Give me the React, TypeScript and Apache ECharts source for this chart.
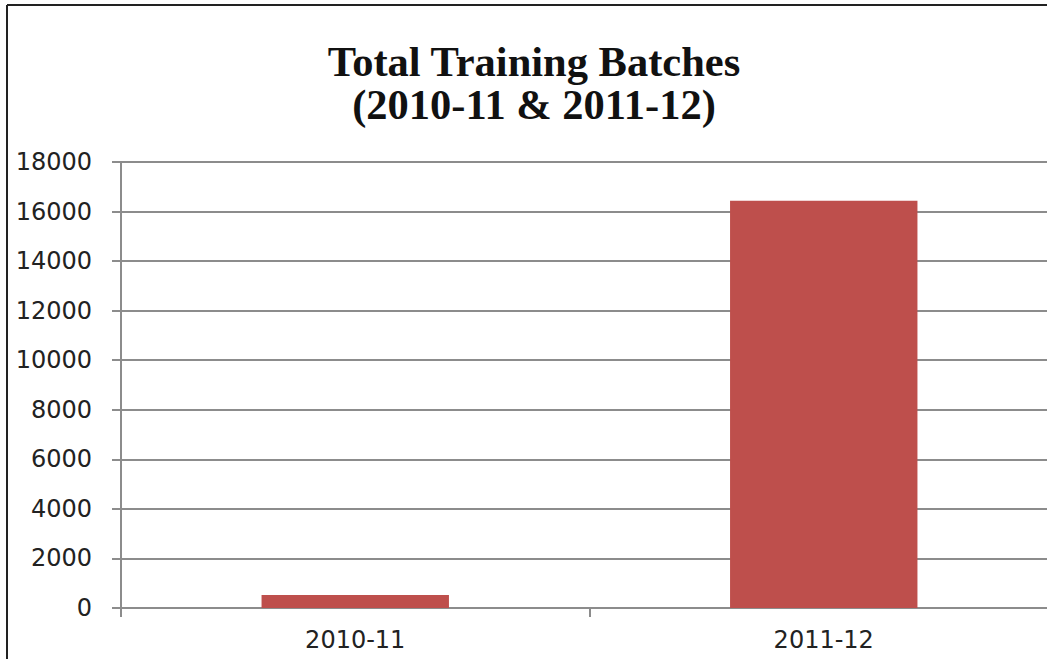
import React, { useEffect, useRef } from "react";
import * as echarts from "echarts";

const categories = ["2010-11", "2011-12"];
const batches = [520, 16440];
const yTicks = [0, 2000, 4000, 6000, 8000, 10000, 12000, 14000, 16000, 18000];

export default function App() {
  const ref = useRef<HTMLDivElement>(null);
  useEffect(() => {
    if (!ref.current) return;
    const chart = echarts.init(ref.current, undefined, { renderer: "svg" });
    chart.setOption({
      animation: false,
      backgroundColor: "#ffffff",
      title: {
        text: "Total Training Batches\n(2010-11 & 2011-12)",
        left: 529,
        textAlign: "center",
        top: 35,
        textStyle: {
          fontFamily: "Liberation Serif",
          fontWeight: "bold",
          fontSize: 42.5,
          lineHeight: 43,
          color: "#111",
        },
      },
      graphic: [
        { type: "line", shape: { x1: 7, y1: 5, x2: 1060, y2: 5 }, style: { stroke: "#222", lineWidth: 2 } },
        { type: "line", shape: { x1: 7, y1: 5, x2: 7, y2: 659 }, style: { stroke: "#222", lineWidth: 2 } },
      ],
      grid: { left: 121, top: 162, width: 937, height: 446 },
      xAxis: {
        type: "category",
        data: categories,
        axisLine: { lineStyle: { color: "#8c8c8c", width: 2 } },
        axisTick: { show: true, length: 9, lineStyle: { color: "#8c8c8c", width: 2 } },
        axisLabel: { fontFamily: "DejaVu Sans", fontSize: 24, color: "#222", margin: 20 },
      },
      yAxis: {
        type: "value",
        min: yTicks[0],
        max: yTicks[yTicks.length - 1],
        interval: 2000,
        axisLine: { show: true, lineStyle: { color: "#8c8c8c", width: 2 } },
        axisTick: { show: true, length: 9, lineStyle: { color: "#8c8c8c", width: 2 } },
        splitLine: { lineStyle: { color: "#8c8c8c", width: 2 } },
        axisLabel: {
          fontFamily: "DejaVu Sans",
          fontSize: 24,
          color: "#222",
          margin: 29,
          formatter: (v: number) => String(v),
        },
      },
      series: [
        {
          type: "bar",
          data: batches,
          barWidth: "40%",
          itemStyle: { color: "#BE4F4C" },
        },
      ],
    });
    return () => chart.dispose();
  }, []);
  return (
    <div
      ref={ref}
      style={{ position: "fixed", left: 0, top: 0, width: 1060, height: 659 }}
    />
  );
}
